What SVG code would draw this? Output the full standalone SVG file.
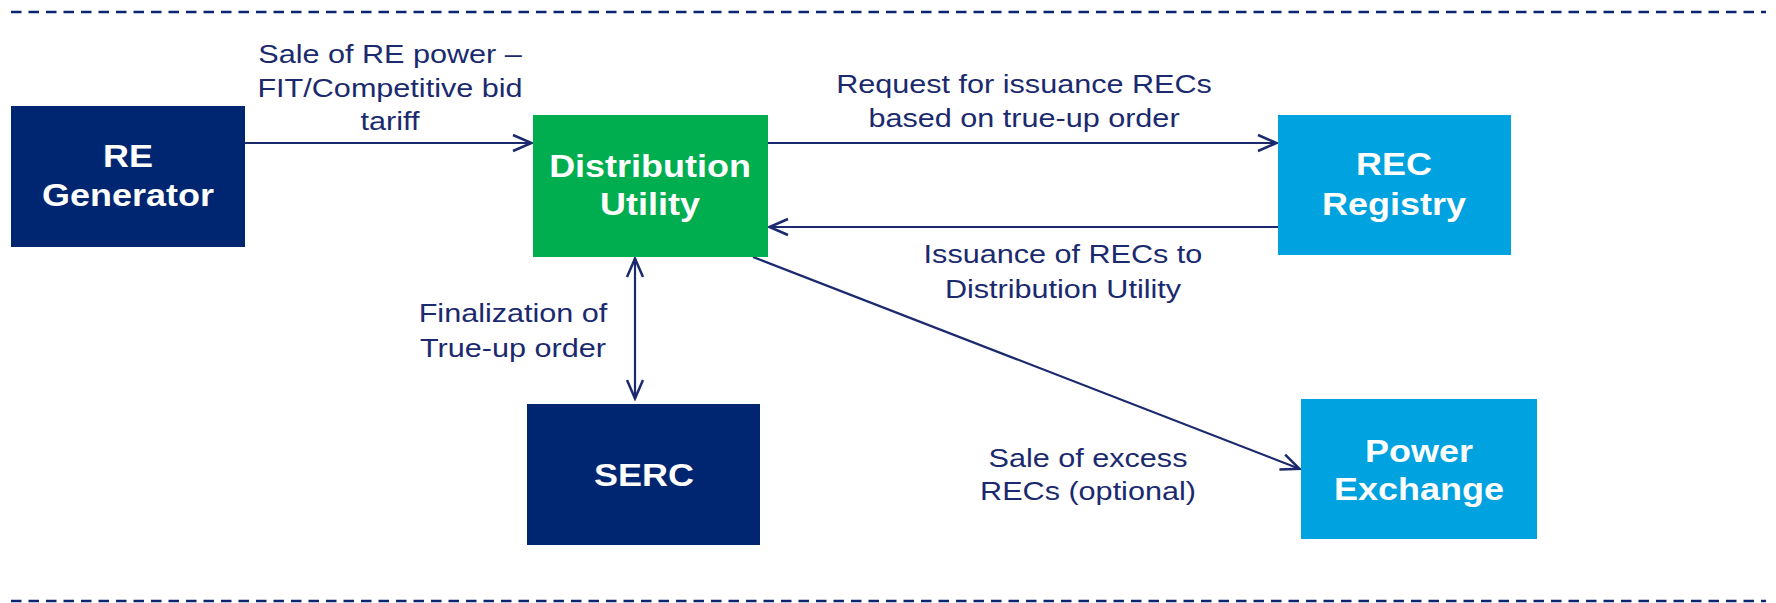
<svg xmlns="http://www.w3.org/2000/svg" width="1776" height="603" viewBox="0 0 1776 603">
<style>
.navy{fill:#002571}
.green{fill:#00AE50}
.blue{fill:#00A2DF}
.nt{font-family:"Liberation Sans",Arial,sans-serif;font-weight:bold;font-size:31px;fill:#ffffff;text-anchor:middle}
.lt{font-family:"Liberation Sans",Arial,sans-serif;font-size:26px;fill:#1B2A6E;text-anchor:middle}
.con{stroke:#1B2A6E;stroke-width:2.2;fill:none}
.dash{stroke:#0B2570;stroke-width:2.5;stroke-dasharray:10.5 7;fill:none}
</style>
<defs>
<marker id="arr" viewBox="0 0 22 20" refX="20.5" refY="10" markerWidth="22" markerHeight="20" markerUnits="userSpaceOnUse" orient="auto-start-reverse">
<path d="M1.5,2 L20,10 L1.5,18" fill="none" stroke="#1B2A6E" stroke-width="2.5"/>
</marker>
</defs>
<line class="dash" x1="11" y1="12" x2="1766" y2="12"/>
<line class="dash" x1="11" y1="601" x2="1766" y2="601"/>
<g id="connectors">
<line class="con" x1="245" y1="143" x2="532" y2="143" marker-end="url(#arr)"/>
<line class="con" x1="768" y1="143" x2="1277" y2="143" marker-end="url(#arr)"/>
<line class="con" x1="1278" y1="227" x2="769" y2="227" marker-end="url(#arr)"/>
<line class="con" x1="635" y1="258" x2="635" y2="399" marker-start="url(#arr)" marker-end="url(#arr)"/>
<line class="con" x1="753" y1="257" x2="1300" y2="469" marker-end="url(#arr)"/>
<text class="lt" transform="translate(390,0) scale(1.177,1)"><tspan x="0" y="63">Sale of RE power –</tspan><tspan x="0" y="97">FIT/Competitive bid</tspan><tspan x="0" y="130">tariff</tspan></text>
<text class="lt" transform="translate(1024,0) scale(1.177,1)"><tspan x="0" y="93">Request for issuance RECs</tspan><tspan x="0" y="127">based on true-up order</tspan></text>
<text class="lt" transform="translate(1063,0) scale(1.177,1)"><tspan x="0" y="263">Issuance of RECs to</tspan><tspan x="0" y="298">Distribution Utility</tspan></text>
<text class="lt" transform="translate(513,0) scale(1.177,1)"><tspan x="0" y="322">Finalization of</tspan><tspan x="0" y="357">True-up order</tspan></text>
<text class="lt" transform="translate(1088,0) scale(1.177,1)"><tspan x="0" y="467">Sale of excess</tspan><tspan x="0" y="500">RECs (optional)</tspan></text>
</g>
<g id="re-generator">
<rect class="navy" x="11" y="106" width="234" height="141"/>
<text class="nt" transform="translate(128,0) scale(1.16,1)"><tspan x="0" y="167">RE</tspan><tspan x="0" y="206">Generator</tspan></text>
</g>
<g id="distribution-utility">
<rect class="green" x="533" y="115" width="235" height="142"/>
<text class="nt" transform="translate(650,0) scale(1.16,1)"><tspan x="0" y="177">Distribution</tspan><tspan x="0" y="215">Utility</tspan></text>
</g>
<g id="rec-registry">
<rect class="blue" x="1278" y="115" width="233" height="140"/>
<text class="nt" transform="translate(1394,0) scale(1.16,1)"><tspan x="0" y="175">REC</tspan><tspan x="0" y="215">Registry</tspan></text>
</g>
<g id="serc">
<rect class="navy" x="527" y="404" width="233" height="141"/>
<text class="nt" transform="translate(644,0) scale(1.16,1)"><tspan x="0" y="486">SERC</tspan></text>
</g>
<g id="power-exchange">
<rect class="blue" x="1301" y="399" width="236" height="140"/>
<text class="nt" transform="translate(1419,0) scale(1.16,1)"><tspan x="0" y="462">Power</tspan><tspan x="0" y="500">Exchange</tspan></text>
</g>
</svg>
